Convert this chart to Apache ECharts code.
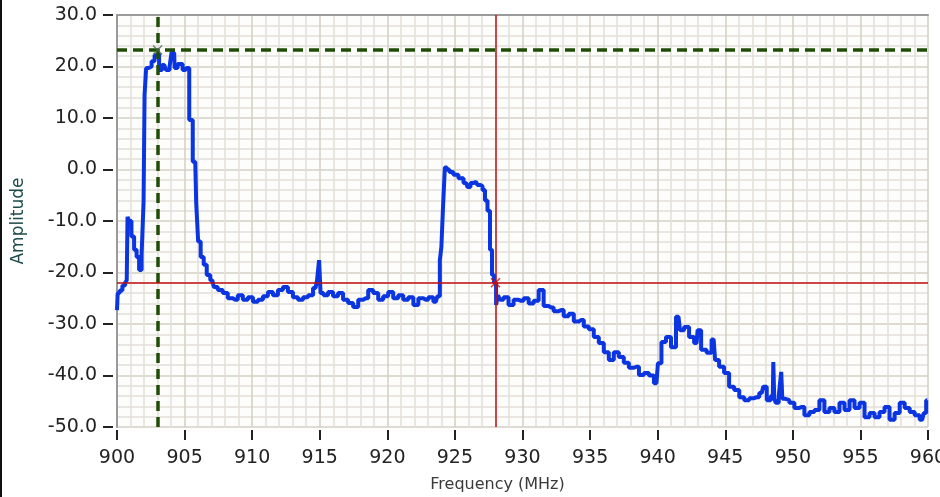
<!DOCTYPE html>
<html>
<head>
<meta charset="utf-8">
<script src="https://cdn.jsdelivr.net/npm/echarts@6/dist/echarts.min.js"></script>
<style>
  html, body { margin: 0; padding: 0; background: #fff; }
  #chart { width: 940px; height: 497px; }
</style>
</head>
<body>
<div id="chart"></div>
<script>
// spectrum trace (MHz, amplitude)
var freqs = [900.0, 900.1, 900.3, 900.5, 900.7, 900.74, 900.82, 900.95, 901.19, 901.34, 901.56, 901.71, 901.93, 902.0,
    902.08, 902.23, 902.45, 902.67, 902.89, 903.04, 903.19, 903.49, 903.78, 904.0, 904.08, 904.23, 904.3, 904.67,
    905.04, 905.27, 905.42, 905.79, 905.93, 906.08, 906.3, 906.53, 906.75, 907.05, 907.27, 907.64, 908.01, 908.38,
    908.75, 909.12, 909.5, 909.87, 910.24, 910.61, 910.98, 911.35, 911.72, 912.09, 912.46, 912.83, 913.2, 913.58,
    913.95, 914.32, 914.69, 914.91, 914.99, 915.13, 915.43, 915.8, 916.17, 916.54, 916.91, 917.28, 917.66, 918.03,
    918.4, 918.77, 919.14, 919.51, 919.88, 920.25, 920.62, 920.99, 921.36, 921.74, 922.11, 922.48, 922.85, 923.22,
    923.59, 923.81, 923.96, 924.04, 924.18, 924.33, 924.48, 924.7, 925.07, 925.45, 925.82, 926.04, 926.26, 926.56,
    926.78, 926.93, 927.15, 927.3, 927.52, 927.67, 927.82, 927.97, 928.12, 928.26, 928.41, 928.78, 929.15, 929.53,
    929.9, 930.27, 930.64, 931.01, 931.38, 931.75, 932.12, 932.49, 932.86, 933.23, 933.61, 933.98, 934.35, 934.72,
    935.09, 935.46, 935.83, 936.2, 936.57, 936.94, 937.31, 937.68, 938.06, 938.43, 938.8, 939.17, 939.54, 939.91,
    940.13, 940.43, 940.8, 941.17, 941.54, 941.77, 942.14, 942.51, 942.88, 943.03, 943.4, 943.84, 944.14, 944.36,
    944.73, 945.1, 945.47, 945.85, 946.22, 946.59, 946.96, 947.33, 947.7, 947.92, 948.22, 948.52, 948.59, 948.66,
    948.81, 949.1, 949.18, 949.26, 949.55, 949.93, 950.3, 950.67, 951.04, 951.41, 951.78, 952.15, 952.52, 952.89,
    953.26, 953.64, 954.01, 954.38, 954.75, 955.12, 955.49, 955.86, 956.23, 956.6, 956.97, 957.34, 957.72, 958.09,
    958.46, 958.83, 959.2, 959.57, 959.79, 959.94];
var amps = [-27.3, -24, -23.5, -22.5, -22, -21.5, -9.2, -10, -13, -15.6, -17, -19.5, -16.6, -6.3,
    14.5, 19.7, 20, 21, 22.2, 22.5, 19.3, 20.3, 19.3, 20, 22.8, 22.6, 19.7, 20.5,
    19.3, 19.7, 9.6, 1.5, -6.5, -14, -17, -18.5, -20.5, -21.5, -22.8, -23.4, -24, -25,
    -25.3, -24.4, -25.3, -24.8, -25.7, -25.3, -24.6, -23.8, -24.4, -23.4, -22.8, -23.8, -24.8, -25.3,
    -24.8, -24.4, -23, -21.5, -17.6, -24, -24.4, -23.8, -24.6, -24, -25.3, -25.9, -26.7, -25.3,
    -25, -23.4, -24, -25.3, -24.6, -23.8, -25, -24.4, -25.3, -24.8, -26.3, -25, -25.3, -24.8,
    -25.7, -24.6, -17.6, -15, -7.9, 0.4, 0, -0.5, -1, -1.7, -2.6, -3.4, -2.6, -2.4,
    -3, -3.2, -4, -6, -8, -15.6, -20.5, -22, -26.3, -24.4, -25.3, -24.8, -26.3, -25.3,
    -25.5, -25, -26, -25.5, -23.4, -26.5, -26.8, -27.5, -27.3, -28.5, -28, -29.5, -29.2, -30.5,
    -31, -32.5, -33.7, -35.5, -37, -35.5, -36.4, -37.5, -38.5, -38.3, -39.9, -39.5, -40, -41.5,
    -37.6, -33.5, -32.5, -34.5, -28.6, -31.2, -30.6, -32.5, -33.7, -31.2, -35, -35.6, -33, -37,
    -38.3, -39.5, -42.2, -42.8, -44.2, -44.8, -44.4, -44.2, -43.4, -42.2, -44.8, -44, -37.4, -44.5,
    -45.3, -44, -39.3, -44.5, -44.8, -45.3, -46.3, -46.1, -47.7, -47.1, -46.7, -44.8, -47.1, -46.3,
    -47.1, -45.3, -46.7, -44.8, -46.3, -45.3, -48.1, -47.3, -48.1, -47.1, -46.1, -48.6, -47.3, -45.3,
    -46.3, -47.1, -47.7, -48.6, -47.3, -44.8];

// cursors [freq, amplitude]
var cursorA = [903, 23.2];
var cursorB = [928, -22];

var xTicks = { min: 900, max: 960, interval: 5 };
var yTicks = { min: -50, max: 30, interval: 10 };

var trace = freqs.map(function (f, i) { return [f, amps[i]]; });

var myChart = echarts.init(document.getElementById('chart'));

var labelFont = { fontFamily: 'DejaVu Sans', fontSize: 19, color: '#222' };
var crossPath = 'path://M0,0 L10,10 M10,0 L0,10';

var option = {
    backgroundColor: '#fff',
    animation: false,
    grid: {
        left: 117, right: 12, top: 15, bottom: 70,
        containLabel: false, outerBoundsMode: 'none',
        show: true, backgroundColor: '#fdfdfc', borderWidth: 0
    },
    xAxis: [{
        type: 'value', min: xTicks.min, max: xTicks.max, interval: xTicks.interval,
        axisLine: { show: false, onZero: false }, axisTick: { show: false }, axisLabel: { show: false },
        splitLine: { show: true, lineStyle: { color: '#d3cfc6', width: 1.5 } },
        minorTick: { show: false, splitNumber: 5 },
        minorSplitLine: { show: true, lineStyle: { color: '#e3e0d9', width: 1.5 } }
    }, {
        // tick marks + labels, set off from the plot
        type: 'value', min: xTicks.min, max: xTicks.max, interval: xTicks.interval,
        position: 'bottom', offset: 3,
        axisLine: { show: false, onZero: false },
        axisTick: { show: true, length: 10, lineStyle: { color: '#222', width: 2 } },
        axisLabel: Object.assign({ margin: 19 }, labelFont),
        splitLine: { show: false },
        name: 'Frequency (MHz)', nameLocation: 'middle', nameGap: 47,
        nameTextStyle: { fontFamily: 'DejaVu Sans', fontSize: 16, color: '#3a3a3a', padding: [0, 50, 0, 0] }
    }, {
        // top border
        type: 'value', min: xTicks.min, max: xTicks.max, position: 'top',
        axisLine: { show: true, onZero: false, lineStyle: { color: '#9a9a9a', width: 2 } },
        axisTick: { show: false }, axisLabel: { show: false }, splitLine: { show: false }
    }],
    yAxis: [{
        type: 'value', min: yTicks.min, max: yTicks.max, interval: yTicks.interval,
        axisLine: { show: true, onZero: false, lineStyle: { color: '#9a9a9a', width: 2 } },
        axisTick: { show: false }, axisLabel: { show: false },
        splitLine: { show: true, lineStyle: { color: '#d3cfc6', width: 1.5 } },
        minorTick: { show: false, splitNumber: 5 },
        minorSplitLine: { show: true, lineStyle: { color: '#e3e0d9', width: 1.5 } }
    }, {
        type: 'value', min: yTicks.min, max: yTicks.max, interval: yTicks.interval,
        position: 'left', offset: 4,
        axisLine: { show: false, onZero: false },
        axisTick: { show: true, length: 10, lineStyle: { color: '#222', width: 2 } },
        axisLabel: Object.assign({ margin: 16, formatter: function (v) { return v.toFixed(1); } }, labelFont),
        splitLine: { show: false },
        name: 'Amplitude', nameLocation: 'middle', nameGap: 86,
        nameTextStyle: { fontFamily: 'DejaVu Sans', fontSize: 17, color: '#1d4a4a' }
    }],
    series: [{
        type: 'line',
        data: trace,
        step: 'middle',
        showSymbol: false,
        lineStyle: { color: '#0a35e0', width: 4 },
        z: 3,
        markLine: {
            silent: true,
            symbol: 'none',
            label: { show: false },
            data: [
                { xAxis: cursorA[0], lineStyle: { color: '#1f4d05', width: 3.5, type: [10, 6] } },
                { yAxis: cursorA[1], lineStyle: { color: '#1f4d05', width: 3.5, type: [10, 6] } },
                { xAxis: cursorB[0], lineStyle: { color: '#c01010', width: 1.5, type: 'solid' } },
                { yAxis: cursorB[1], lineStyle: { color: '#c01010', width: 1.5, type: 'solid' } }
            ]
        }
    }, {
        type: 'scatter',
        data: [cursorA],
        symbol: crossPath, symbolSize: 9, silent: true, z: 5,
        itemStyle: { color: 'none', borderColor: '#4a6a4a', borderWidth: 1.5 }
    }, {
        type: 'scatter',
        data: [cursorB],
        symbol: crossPath, symbolSize: 9, silent: true, z: 5,
        itemStyle: { color: 'none', borderColor: '#c01010', borderWidth: 1.5 }
    }],
    graphic: [
        { type: 'rect', left: 0, top: 0, shape: { width: 2, height: 497 }, style: { fill: '#111' } }
    ]
};
myChart.setOption(option);
</script>
</body>
</html>
